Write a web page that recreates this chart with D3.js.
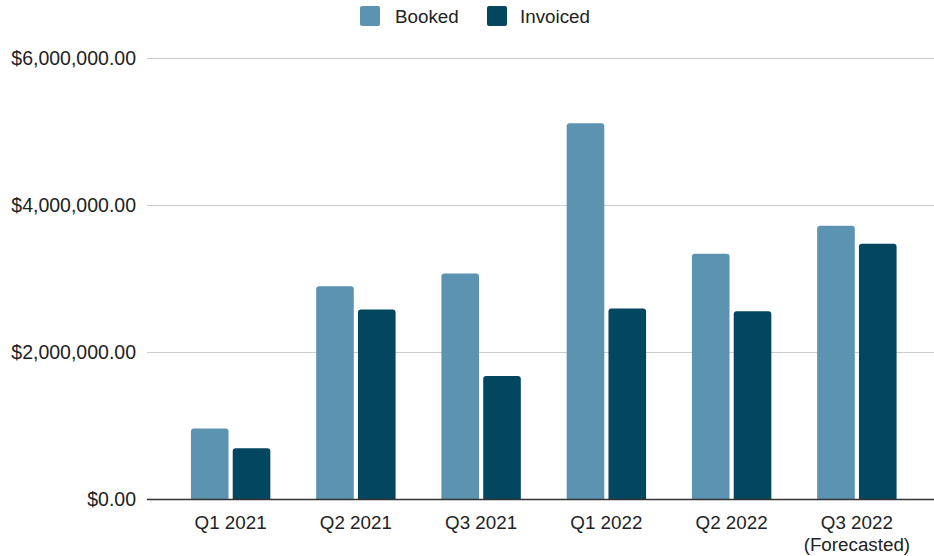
<!DOCTYPE html>
<html>
<head>
<meta charset="utf-8">
<script src="https://cdn.jsdelivr.net/npm/d3@7"></script>
<style>
  html, body { margin: 0; padding: 0; background: #fff; }
  svg { display: block; font-family: "Liberation Sans", Arial, sans-serif; }
</style>
</head>
<body>
<svg id="chart" width="934" height="556"></svg>
<script>
const categories = ["Q1 2021", "Q2 2021", "Q3 2021", "Q1 2022", "Q2 2022", "Q3 2022\n(Forecasted)"];
const seriesNames = ["Booked", "Invoiced"];
const booked   = [967000, 2900000, 3075000, 5120000, 3345000, 3725000];
const invoiced = [696000, 2585000, 1680000, 2600000, 2560000, 3480000];
const yTicks = [0, 2000000, 4000000, 6000000];
const colors = ["#5b93b1", "#02465f"];

const svg = d3.select("#chart");
const plotLeft = 147, plotRight = 934;
const y = d3.scaleLinear().domain([0, 6000000]).range([499.5, 58.5]);

const x = d3.scaleBand().domain(categories).range([168, 919.5]).paddingInner(0).paddingOuter(0);
const groupW = 79.4;
const xs = d3.scaleBand().domain(seriesNames)
  .range([(x.bandwidth() - groupW) / 2, (x.bandwidth() + groupW) / 2])
  .paddingInner(0.1).paddingOuter(0);

// gridlines
svg.append("g").selectAll("line").data(yTicks.filter(d => d > 0)).join("line")
  .attr("x1", plotLeft).attr("x2", plotRight)
  .attr("y1", d => y(d)).attr("y2", d => y(d))
  .attr("stroke", "#cccccc").attr("stroke-width", 1);

// y labels
const fmt = d3.format("$,.2f");
svg.append("g").selectAll("text").data(yTicks).join("text")
  .attr("x", 136).attr("y", d => y(d)).attr("dy", "0.35em")
  .attr("text-anchor", "end").attr("font-size", 19.5).attr("fill", "#222")
  .text(d => fmt(d));

// bars
function topRounded(x0, y0, w, h, r) {
  r = Math.min(r, h, w / 2);
  return `M${x0},${y0 + h}V${y0 + r}Q${x0},${y0} ${x0 + r},${y0}H${x0 + w - r}Q${x0 + w},${y0} ${x0 + w},${y0 + r}V${y0 + h}Z`;
}
const rows = categories.map((c, i) => ({ cat: c, vals: [booked[i], invoiced[i]] }));
const groups = svg.append("g").selectAll("g").data(rows).join("g")
  .attr("transform", d => `translate(${x(d.cat)},0)`);
groups.selectAll("path").data(d => d.vals.map((v, j) => ({ v, s: seriesNames[j], j }))).join("path")
  .attr("fill", d => colors[d.j])
  .attr("d", d => topRounded(xs(d.s), y(d.v), xs.bandwidth(), y(0) - y(d.v), 3));

// baseline
svg.append("line").attr("x1", plotLeft).attr("x2", plotRight)
  .attr("y1", y(0)).attr("y2", y(0)).attr("stroke", "#333").attr("stroke-width", 1.3);

// x labels
const xl = svg.append("g").selectAll("text").data(categories).join("text")
  .attr("x", d => x(d) + x.bandwidth() / 2).attr("y", 529)
  .attr("text-anchor", "middle").attr("font-size", 18.8).attr("fill", "#222");
xl.each(function(d) {
  const lines = d.split("\n");
  const t = d3.select(this);
  lines.forEach((ln, k) => {
    t.append("tspan").attr("x", x(d) + x.bandwidth() / 2).attr("dy", k === 0 ? 0 : 22).text(ln);
  });
});

// legend
const legendItems = [
  { name: seriesNames[0], color: colors[0], sx: 360, tx: 395 },
  { name: seriesNames[1], color: colors[1], sx: 487, tx: 520 }
];
const lg = svg.append("g");
legendItems.forEach(it => {
  lg.append("rect").attr("x", it.sx).attr("y", 6).attr("width", 20).attr("height", 20)
    .attr("rx", 2).attr("fill", it.color);
  lg.append("text").attr("x", it.tx).attr("y", 16).attr("dy", "0.35em")
    .attr("font-size", 18.8).attr("fill", "#222").text(it.name);
});
</script>
</body>
</html>
